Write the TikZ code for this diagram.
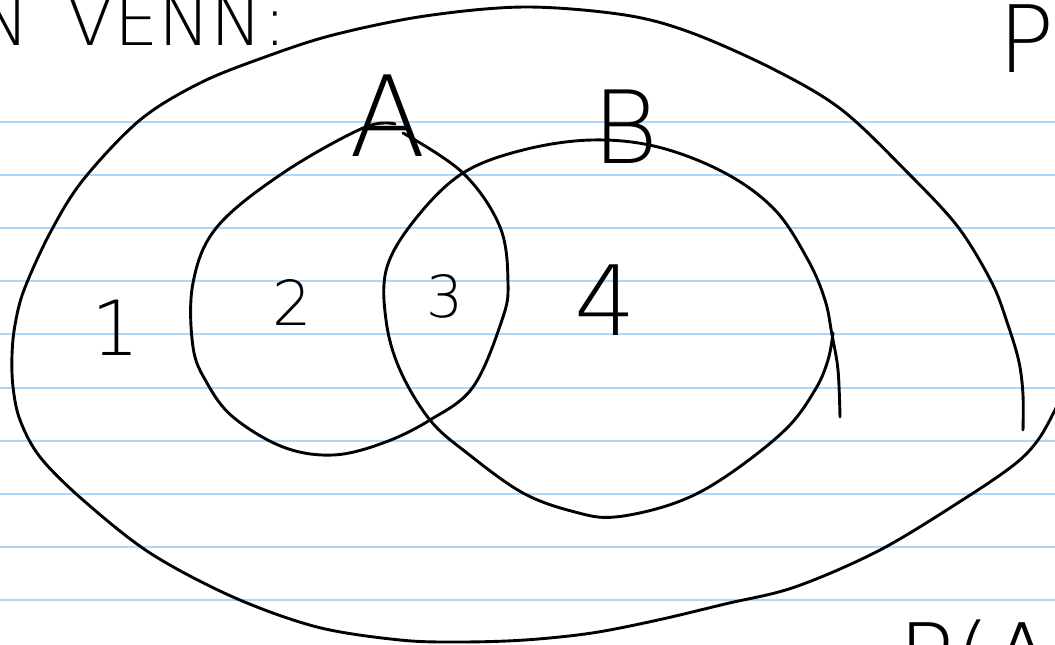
\documentclass[tikz,border=0pt]{standalone}
\usepackage{fontspec}
\IfFontExistsTF{DejaVu Sans ExtraLight}{\newfontfamily\hand{DejaVu Sans ExtraLight}}{%
 \IfFontExistsTF{Fira Sans ExtraLight}{\newfontfamily\hand{Fira Sans ExtraLight}}{%
  \IfFontExistsTF{Fira Sans Light}{\newfontfamily\hand{Fira Sans Light}}{%
   \IfFontExistsTF{Poppins Light}{\newfontfamily\hand{Poppins Light}}{%
    \IfFontExistsTF{Lato Light}{\newfontfamily\hand{Lato Light}}{%
     \newfontfamily\hand{Liberation Sans}}}}}}
\definecolor{ruled}{RGB}{172,214,250}
\begin{document}
\begin{tikzpicture}[x=1pt,y=-1pt,
  ink/.style={draw=black,line width=2.9pt,line cap=round,line join=round},
  thinink/.style={draw=black,line width=2.3pt,line cap=round,line join=round},
  rule/.style={draw=ruled,line width=2pt},
  lbl/.style={inner sep=0pt,text=black}]
\useasboundingbox (0,0) rectangle (1055,645);
\clip (0,0) rectangle (1055,645);
\fill[white] (0,0) rectangle (1055,645);
% ruled lines
\foreach \yy in {122,175,228,281,334,388,441,494,547,600}{
  \draw[rule] (0,\yy) -- (1055,\yy);
}
% outer region (universe)
\draw[ink] plot[smooth,tension=0.55] coordinates {
 (1066,385) (1055,410) (1038,440) (1015,464) (964,499) (880,550) (795,587)
 (725,604) (658,620) (592,633) (525,640) (460,642) (400,640) (317,627)
 (233,597) (150,553) (83,500) (40,457) (20,420) (13,387) (12,355) (15,325)
 (24,290) (50,233) (83,180) (140,120) (200,83) (265,57) (333,35) (425,16)
 (525,7) (625,15) (692,33) (775,70) (842,110) (908,173) (958,227) (992,283)
 (1008,325) (1019,362) (1023,395) (1023,430)};
% circle A
\draw[ink] plot[smooth,tension=0.6] coordinates {
 (403,133) (463,173) (500,227) (508,283) (502,320) (473,387) (430,420)
 (383,443) (333,455) (283,447) (233,417) (207,383) (193,347) (193,283)
 (217,227) (283,173) (363,128) (395,124)};
% circle B
\draw[ink] plot[smooth,tension=0.6] coordinates {
 (833,333) (828,360) (815,390) (785,430) (725,477) (675,503) (615,517)
 (575,512) (523,493) (467,453) (430,420) (400,370) (386,320) (387,267)
 (417,217) (463,173) (523,150) (592,140) (658,147) (725,173) (775,210)
 (808,260) (825,300) (832,335) (838,370) (840,417)};
% labels
\node[lbl,font=\hand\fontsize{112}{112}\selectfont] (la) at (388,116) {A};
\node[lbl,font=\hand\fontsize{101}{101}\selectfont] (lb) at (626,127) {B};
\node[lbl,font=\hand\fontsize{76}{76}\selectfont] (n1) at (116,328) {1};
\node[lbl,font=\hand\fontsize{62}{62}\selectfont] (n2) at (292,302) {2};
\node[lbl,font=\hand\fontsize{58}{58}\selectfont] (n3) at (445,296) {3};
\node[lbl,font=\hand\fontsize{97}{97}\selectfont] (n4) at (605,300) {4};
% cut-off writing at the edges
\node[lbl,font=\hand\fontsize{70}{70}\selectfont,anchor=base east] (tn) at (30,45) {N};
\node[lbl,font=\hand\fontsize{70}{70}\selectfont,anchor=base west] (tv) at (66,45) {VENN:};
\node[lbl,font=\hand\fontsize{93}{93}\selectfont,anchor=base west] (tp) at (998,72) {P(};
\node[lbl,font=\hand\fontsize{93}{93}\selectfont,anchor=base west] (bp) at (898,690) {P(A};
\end{tikzpicture}
\end{document}
